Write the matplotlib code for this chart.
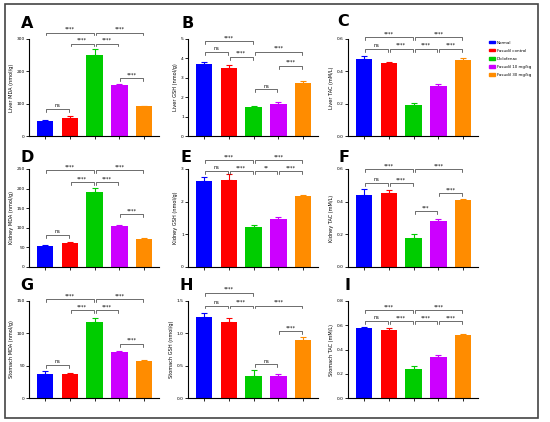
import numpy as np
import matplotlib
matplotlib.use('Agg')
import matplotlib.pyplot as plt
from matplotlib.patches import Patch, Rectangle

# groups and colours
groups = ['Normal', 'Fasudil control', 'Diclofenac', 'Fasudil 10 mg/kg', 'Fasudil 30 mg/kg']
colors = ['#0000ff', '#ff0000', '#00cc00', '#cc00ff', '#ff8c00']

# panel values (mean, SEM)
liver_mda = [47, 57, 250, 157, 92]
liver_mda_err = [3, 4, 18, 4, 2]
liver_gsh = [3.72, 3.53, 1.47, 1.63, 2.75]
liver_gsh_err = [0.12, 0.14, 0.10, 0.10, 0.08]
liver_tac = [0.476, 0.452, 0.19, 0.31, 0.47]
liver_tac_err = [0.02, 0.008, 0.012, 0.01, 0.01]

kidney_mda = [54, 60, 191, 104, 71]
kidney_mda_err = [2, 3, 10, 4, 4]
kidney_gsh = [2.63, 2.66, 1.22, 1.47, 2.17]
kidney_gsh_err = [0.12, 0.18, 0.06, 0.06, 0.04]
kidney_tac = [0.44, 0.45, 0.18, 0.28, 0.41]
kidney_tac_err = [0.035, 0.02, 0.025, 0.012, 0.006]

stomach_mda = [37, 37.5, 117, 71, 57]
stomach_mda_err = [4, 1.5, 7, 2, 2]
stomach_gsh = [1.25, 1.18, 0.34, 0.34, 0.90]
stomach_gsh_err = [0.07, 0.06, 0.10, 0.03, 0.04]
stomach_tac = [0.578, 0.56, 0.24, 0.342, 0.523]
stomach_tac_err = [0.007, 0.02, 0.02, 0.016, 0.006]

# y labels and ticks
ylabels = ['Liver MDA (nmol/g)', 'Liver GSH (nmol/g)', 'Liver TAC (mM/L)',
           'Kidney MDA (nmol/g)', 'Kidney GSH (nmol/g)', 'Kidney TAC (mM/L)',
           'Stomach MDA (nmol/g)', 'Stomach GSH (nmol/g)', 'Stomach TAC (mM/L)']
yticks = [[0, 100, 200, 300], [0, 1, 2, 3, 4, 5], [0.0, 0.2, 0.4, 0.6],
          [0, 50, 100, 150, 200, 250], [0, 1, 2, 3], [0.0, 0.2, 0.4, 0.6],
          [0, 50, 100, 150], [0.0, 0.5, 1.0, 1.5], [0.0, 0.2, 0.4, 0.6, 0.8]]
letters = ['A', 'B', 'C', 'D', 'E', 'F', 'G', 'H', 'I']

# significance comparisons (i, j, label) and bracket heights
sig_a = [(0, 2, '****'), (2, 4, '****'), (1, 2, '****'), (2, 3, '****'), (0, 1, 'ns'), (3, 4, '****')]
sig_a_y = [320, 320, 286, 286, 83, 178]
sig_b = [(0, 2, '****'), (0, 1, 'ns'), (1, 2, '****'), (2, 4, '****'), (3, 4, '****'), (2, 3, 'ns')]
sig_b_y = [4.9, 4.34, 4.08, 4.34, 3.62, 2.4]
sig_c = [(0, 2, '****'), (2, 4, '****'), (0, 1, 'ns'), (1, 2, '****'), (2, 3, '****'), (3, 4, '****')]
sig_c_y = [0.61, 0.61, 0.54, 0.54, 0.54, 0.54]
sig_d = [(0, 2, '****'), (2, 4, '****'), (1, 2, '****'), (2, 3, '****'), (0, 1, 'ns'), (3, 4, '****')]
sig_d_y = [247, 247, 217, 217, 82, 135]
sig_e = [(0, 2, '****'), (2, 4, '****'), (0, 1, 'ns'), (1, 2, '****'), (2, 3, '**'), (3, 4, '****')]
sig_e_y = [3.27, 3.27, 2.94, 2.94, 2.94, 2.94]
sig_f = [(0, 2, '****'), (2, 4, '****'), (0, 1, 'ns'), (1, 2, '****'), (2, 3, '***'), (3, 4, '****')]
sig_f_y = [0.6, 0.6, 0.515, 0.515, 0.34, 0.45]
sig_g = [(0, 2, '****'), (2, 4, '****'), (1, 2, '****'), (2, 3, '****'), (0, 1, 'ns'), (3, 4, '****')]
sig_g_y = [153, 153, 136, 136, 51, 84]
sig_h = [(0, 2, '****'), (0, 1, 'ns'), (1, 2, '****'), (2, 4, '****'), (3, 4, '****'), (2, 3, 'ns')]
sig_h_y = [1.63, 1.43, 1.43, 1.43, 1.03, 0.52]
sig_i = [(0, 2, '****'), (2, 4, '****'), (0, 1, 'ns'), (1, 2, '****'), (2, 3, '****'), (3, 4, '****')]
sig_i_y = [0.723, 0.723, 0.636, 0.636, 0.636, 0.636]

panels = [
    (liver_mda, liver_mda_err, sig_a, sig_a_y),
    (liver_gsh, liver_gsh_err, sig_b, sig_b_y),
    (liver_tac, liver_tac_err, sig_c, sig_c_y),
    (kidney_mda, kidney_mda_err, sig_d, sig_d_y),
    (kidney_gsh, kidney_gsh_err, sig_e, sig_e_y),
    (kidney_tac, kidney_tac_err, sig_f, sig_f_y),
    (stomach_mda, stomach_mda_err, sig_g, sig_g_y),
    (stomach_gsh, stomach_gsh_err, sig_h, sig_h_y),
    (stomach_tac, stomach_tac_err, sig_i, sig_i_y),
]

W, H = 550, 422
fig = plt.figure(figsize=(W / 100, H / 100), dpi=100)


def px_box(left, top, w, h):
    return [left / W, 1 - (top + h) / H, w / W, h / H]


col_left = [29, 188, 348]
row_top = [39, 169, 301]
row_h = [97, 98, 97]
letter_pos = [(27, 23), (188, 23), (343, 22),
              (27, 158), (186, 157), (344, 157),
              (27, 286), (186, 285), (347, 285)]

x = np.arange(len(groups))
for k, (vals, errs, sigs, sig_y) in enumerate(panels):
    r, c = divmod(k, 3)
    ax = fig.add_axes(px_box(col_left[c], row_top[r], 130, row_h[r]))
    ax.bar(x, vals, width=0.66, color=colors, zorder=2)
    for i in range(len(x)):
        ax.errorbar(x[i], vals[i], yerr=[[0], [errs[i]]], color=colors[i],
                    capsize=2.2, elinewidth=0.8, capthick=0.8, zorder=1)
    ymax = yticks[k][-1]
    ax.set_ylim(0, ymax)
    ax.set_xlim(-0.65, 4.6)
    ax.set_yticks(yticks[k])
    ax.set_xticks(x)
    ax.set_xticklabels([])
    ax.set_ylabel(ylabels[k], fontsize=3.6, labelpad=2)
    ax.tick_params(axis='both', labelsize=3.2, length=2, width=0.6, pad=1)
    for s in ['top', 'right']:
        ax.spines[s].set_visible(False)
    for s in ['left', 'bottom']:
        ax.spines[s].set_linewidth(0.8)

    drop = 0.03 * ymax
    for (i, j, lab), yb in zip(sigs, sig_y):
        x0, x1 = i + 0.04, j - 0.04
        ax.plot([x0, x0, x1, x1], [yb - drop, yb, yb, yb - drop],
                color='#333333', lw=0.5, clip_on=False)
        ax.annotate(lab, xy=((i + j) / 2, yb), xytext=(0, 0.6),
                    textcoords='offset points', ha='center', va='bottom',
                    fontsize=3.6, annotation_clip=False)

    lx, ly = letter_pos[k]
    fig.text(lx / W, 1 - ly / H, letters[k], fontsize=11.5, fontweight='bold',
             ha='center', va='center')

# legend
handles = [Patch(facecolor=col, edgecolor=col) for col in colors]
fig.legend(handles, groups, loc='upper left', bbox_to_anchor=(487 / W, 1 - 39 / H),
           fontsize=2.9, frameon=False, handlelength=1.5, handleheight=0.6,
           labelspacing=1.0, handletextpad=0.6, borderaxespad=0)

# outer frame
fig.patches.append(Rectangle((5 / W, 4 / H), 533 / W, 414 / H, transform=fig.transFigure,
                             fill=False, edgecolor='#444444', lw=1.2))

fig.savefig('out.png', dpi=100)
